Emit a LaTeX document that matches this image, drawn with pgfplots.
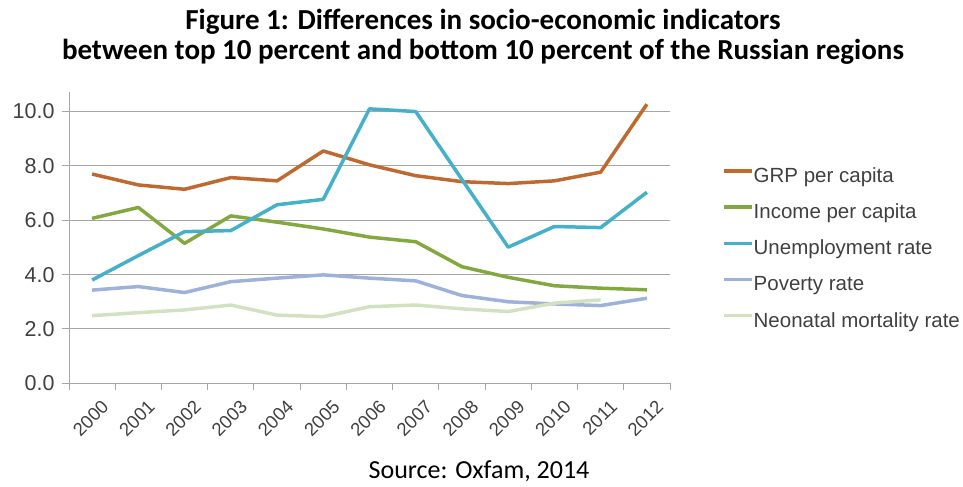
\documentclass[border=0pt]{standalone}
\usepackage{pgfplots}
\pgfplotsset{compat=1.18}
\usepackage{fontspec}
\setmainfont{Liberation Sans}
\newfontfamily\calibri{Carlito}
\definecolor{cGRP}{HTML}{C0692E}
\definecolor{cInc}{HTML}{84A840}
\definecolor{cUne}{HTML}{45B0C9}
\definecolor{cPov}{HTML}{9DB1DA}
\definecolor{cNeo}{HTML}{D2E2C0}
\definecolor{cGrid}{HTML}{A6A6A6}
\definecolor{cTxt}{HTML}{404040}
\begin{document}
\begin{tikzpicture}
\path[use as bounding box] (-69bp,-103.7bp) rectangle (894bp,383.3bp);
\begin{axis}[
  at={(0,0)}, anchor=south west,
  scale only axis,
  width=601bp, height=291.3bp,
  xmin=-0.5, xmax=12.5, ymin=0, ymax=10.72,
  axis x line*=bottom, axis y line*=left,
  axis line style={draw=cGrid, line width=1pt, -},
  xtick={0,...,12},
  xticklabels={2000,2001,2002,2003,2004,2005,2006,2007,2008,2009,2010,2011,2012},
  minor xtick={-0.5,0.5,...,12.5},
  xtick style={draw=none},
  minor x tick style={draw=cGrid, line width=1pt},
  ytick={0,2,...,10},
  ytick style={draw=cGrid, line width=1pt},
  major tick length=7bp, minor tick length=7bp,
  tick align=outside,
  ymajorgrids,
  major grid style={draw=cGrid, line width=1pt},
  yticklabel={\pgfmathprintnumber[fixed,fixed zerofill,precision=1]{\tick}},
  /pgf/number format/assume math mode=true,
  ticklabel style={text=cTxt},
  yticklabel style={font=\fontsize{21.5bp}{23bp}\selectfont, xshift=-4bp},
  xticklabel style={font=\fontsize{18.5bp}{20bp}\selectfont, rotate=45, anchor=north east, inner sep=0bp, yshift=-12bp, xshift=0bp},
  legend style={at={(1.0865,0.742)}, anchor=north west, draw=none, fill=none,
    font=\fontsize{20.5bp}{22bp}\selectfont, text=cTxt,
    row sep=17.2bp, inner sep=0pt,
    nodes={inner sep=0pt, text height=15bp, text depth=4bp}},
  legend cell align=left,
  legend image code/.code={\draw[#1, line width=3.5pt] (0bp,6bp) -- (28bp,6bp);},
  every axis plot/.append style={line width=3.5pt, line join=round},
  clip=false,
]
\addplot[cGRP] coordinates {(0,7.70)(1,7.30)(2,7.14)(3,7.57)(4,7.45)(5,8.55)(6,8.04)(7,7.64)(8,7.42)(9,7.35)(10,7.45)(11,7.77)(12,10.27)};
\addlegendentry{GRP per capita}
\addplot[cInc] coordinates {(0,6.07)(1,6.47)(2,5.15)(3,6.16)(4,5.93)(5,5.68)(6,5.38)(7,5.21)(8,4.29)(9,3.90)(10,3.59)(11,3.50)(12,3.44)};
\addlegendentry{Income per capita}
\addplot[cUne] coordinates {(0,3.80)(1,4.70)(2,5.58)(3,5.62)(4,6.57)(5,6.77)(6,10.10)(7,10.00)(8,7.50)(9,5.01)(10,5.77)(11,5.73)(12,7.03)};
\addlegendentry{Unemployment rate}
\addplot[cPov] coordinates {(0,3.43)(1,3.56)(2,3.34)(3,3.74)(4,3.87)(5,3.99)(6,3.87)(7,3.77)(8,3.23)(9,3.00)(10,2.92)(11,2.86)(12,3.13)};
\addlegendentry{Poverty rate}
\addplot[cNeo] coordinates {(0,2.49)(1,2.60)(2,2.70)(3,2.88)(4,2.51)(5,2.45)(6,2.82)(7,2.88)(8,2.74)(9,2.64)(10,2.95)(11,3.07)};
\addlegendentry{Neonatal mortality rate}
\end{axis}
\node[font=\calibri\bfseries\fontsize{29bp}{31bp}\selectfont] at (414bp,361.3bp) {Figure 1: Differences in socio-economic indicators};
\node[font=\calibri\bfseries\fontsize{29bp}{31bp}\selectfont] at (414bp,331.3bp) {between top 10 percent and bottom 10 percent of the Russian regions};
\node[font=\calibri\fontsize{26bp}{28bp}\selectfont] at (410bp,-88bp) {Source: Oxfam, 2014};
\end{tikzpicture}
\end{document}
